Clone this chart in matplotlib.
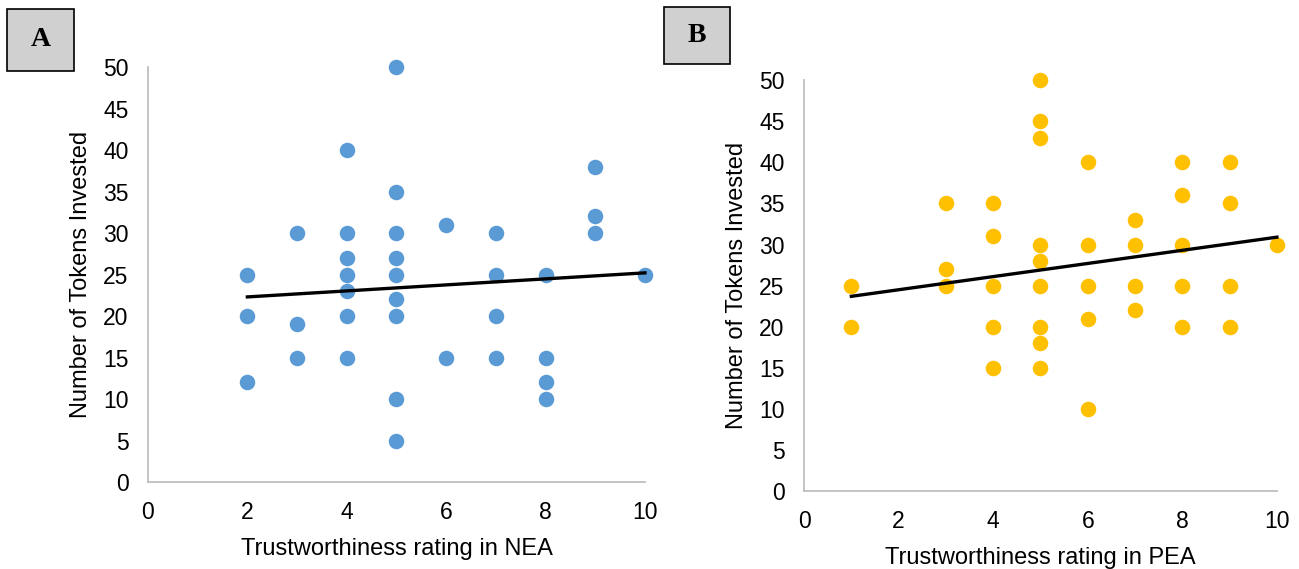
import numpy as np
import matplotlib.pyplot as plt
from matplotlib.patches import Rectangle

plt.rcParams['font.family'] = ['Liberation Sans', 'DejaVu Sans']

# Panel A: NEA ratings vs tokens
nea_x = [2, 2, 2,
         3, 3, 3,
         4, 4, 4, 4, 4, 4, 4,
         5, 5, 5, 5, 5, 5, 5, 5, 5,
         6, 6,
         7, 7, 7, 7,
         8, 8, 8, 8,
         9, 9, 9,
         10]
nea_y = [25, 20, 12,
         30, 19, 15,
         40, 30, 27, 25, 23, 20, 15,
         50, 35, 30, 27, 25, 22, 20, 10, 5,
         31, 15,
         30, 25, 20, 15,
         25, 15, 12, 10,
         38, 32, 30,
         25]
# trendline (endpoints)
nea_trend_x = [2, 10]
nea_trend_y = [22.3, 25.2]

# Panel B: PEA ratings vs tokens
pea_x = [1, 1,
         3, 3, 3,
         4, 4, 4, 4, 4,
         5, 5, 5, 5, 5, 5, 5, 5, 5,
         6, 6, 6, 6, 6,
         7, 7, 7, 7,
         8, 8, 8, 8, 8,
         9, 9, 9, 9,
         10]
pea_y = [25, 20,
         35, 27, 25,
         35, 31, 25, 20, 15,
         50, 45, 43, 30, 28, 25, 20, 18, 15,
         40, 30, 25, 21, 10,
         33, 30, 25, 22,
         40, 36, 30, 25, 20,
         40, 35, 25, 20,
         30]
pea_trend_x = [1, 10]
pea_trend_y = [23.7, 30.9]

fig = plt.figure(figsize=(12.99, 5.69), dpi=100)


def panel(rect, xs, ys, tx, ty, color, xlabel, letter, box):
    ax = fig.add_axes(rect)
    ax.scatter(xs, ys, s=125, color=color, zorder=3, clip_on=False, linewidths=0)
    ax.plot(tx, ty, color='black', lw=2.4, zorder=4, clip_on=False)

    ax.set_xlim(0, 10)
    ax.set_ylim(0, 50)
    ax.set_xticks(range(0, 11, 2))
    ax.set_yticks(range(0, 51, 5))
    for s in ['top', 'right']:
        ax.spines[s].set_visible(False)
    for s in ['left', 'bottom']:
        ax.spines[s].set_color('#bfbfbf')
        ax.spines[s].set_linewidth(1.3)
    ax.tick_params(length=0, labelsize=16.5, colors='black')
    ax.tick_params(axis='x', pad=14)
    ax.tick_params(axis='y', pad=14)
    ax.set_xlabel(xlabel, fontsize=17, labelpad=10)
    ax.set_ylabel('Number of Tokens Invested', fontsize=17, labelpad=8)

    # letter box
    x0, y0, w, h = box
    fig.patches.append(Rectangle((x0, y0), w, h, transform=fig.transFigure,
                                 facecolor='#d0d0d0', edgecolor='black', lw=1.2))
    fig.text(x0 + w / 2, y0 + h / 2, letter, ha='center', va='center',
             fontsize=20, fontweight='bold', family=['Liberation Serif', 'DejaVu Serif'])
    return ax


panel([0.1139, 0.1529, 0.3826, 0.7293], nea_x, nea_y, nea_trend_x, nea_trend_y,
      '#5b9bd5', 'Trustworthiness rating in NEA', 'A',
      (7 / 1299, 1 - 71 / 569, 67 / 1299, 62 / 569))
panel([0.619, 0.137, 0.364, 0.722], pea_x, pea_y, pea_trend_x, pea_trend_y,
      '#ffc000', 'Trustworthiness rating in PEA', 'B',
      (664 / 1299, 1 - 64 / 569, 66 / 1299, 57 / 569))

fig.savefig('out.png', dpi=100)
